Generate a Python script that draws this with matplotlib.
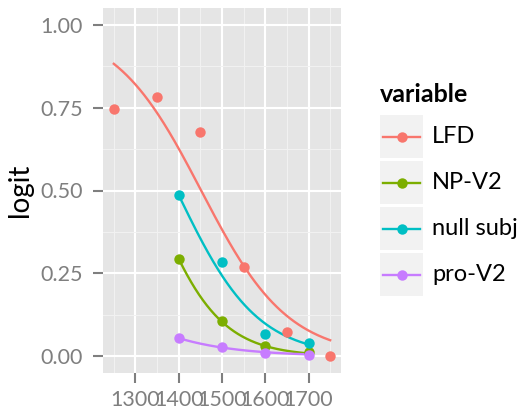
import numpy as np
import matplotlib.pyplot as plt
from matplotlib.patches import Rectangle
from matplotlib.lines import Line2D

# series
variables = ['LFD', 'NP-V2', 'null subj', 'pro-V2']
colors = ['#F8766D', '#7CAE00', '#00BFC4', '#C77CFF']

lfd_years = [1250, 1350, 1450, 1550, 1650, 1750]
lfd_vals = [0.745, 0.782, 0.675, 0.268, 0.074, 0.0]
npv2_years = [1400, 1500, 1600, 1700]
npv2_vals = [0.294, 0.106, 0.031, 0.013]
null_years = [1400, 1500, 1600, 1700]
null_vals = [0.486, 0.284, 0.069, 0.039]
prov2_years = [1400, 1500, 1600, 1700]
prov2_vals = [0.056, 0.028, 0.011, 0.003]

# logistic fit curves: (start year, end year, logit at start year, slope per year)
fit_params = {
    'LFD': (1250, 1750, 2.01, -0.00996),
    'NP-V2': (1400, 1700, -0.876, -0.01276),
    'null subj': (1400, 1700, -0.056, -0.01078),
    'pro-V2': (1400, 1700, -2.84, -0.00757),
}

points = {
    'LFD': (lfd_years, lfd_vals),
    'NP-V2': (npv2_years, npv2_vals),
    'null subj': (null_years, null_vals),
    'pro-V2': (prov2_years, prov2_vals),
}

GREY = '#7F7F7F'
plt.rcParams['font.family'] = 'Lato'

fig = plt.figure(figsize=(5.27, 4.12), dpi=100)
ax = fig.add_axes([103 / 527, 1 - 373 / 412, 238 / 527, 365 / 412])
ax.set_facecolor('#E5E5E5')

for name, col in zip(variables, colors):
    x0, x1, a, b = fit_params[name]
    xs = np.linspace(x0, x1, 200)
    ys = 1 / (1 + np.exp(-(a + b * (xs - x0))))
    ax.plot(xs, ys, color=col, lw=1.7, zorder=3)
    px, py = points[name]
    ax.plot(px, py, 'o', color=col, ms=7.5, mec='none', zorder=4)

ax.set_xlim(1225, 1775)
ax.set_ylim(-0.05, 1.05)
ax.set_xticks([1300, 1400, 1500, 1600, 1700])
ax.set_xticks([1250, 1350, 1450, 1550, 1650, 1750], minor=True)
ax.set_yticks([0, 0.25, 0.5, 0.75, 1.0])
ax.set_yticks([0.125, 0.375, 0.625, 0.875], minor=True)
ax.set_yticklabels(['0.00', '0.25', '0.50', '0.75', '1.00'])
ax.grid(which='major', color='white', lw=1.5, zorder=1)
ax.grid(which='minor', color='#F2F2F2', lw=0.7, zorder=1)
ax.set_axisbelow(True)
for s in ax.spines.values():
    s.set_visible(False)
ax.tick_params(which='major', length=7.2, width=1.5, color=GREY,
               labelcolor=GREY, labelsize=15.5)
ax.tick_params(axis='y', pad=7.5)
ax.tick_params(axis='x', pad=5)
ax.tick_params(which='minor', length=0)
ax.set_ylabel('logit', fontsize=20, labelpad=5)

# legend drawn by hand in figure pixels
fig.text(380 / 527, 1 - 94 / 412, 'variable', fontsize=18, fontweight='bold',
         va='center', ha='left')
for i, (name, col) in enumerate(zip(variables, colors)):
    top = 115 + i * 46
    fig.add_artist(Rectangle((380 / 527, 1 - (top + 43) / 412), 43 / 527, 43 / 412,
                             transform=fig.transFigure, facecolor='#F2F2F2',
                             edgecolor='none'))
    yc = 1 - (top + 21.5) / 412
    fig.add_artist(Line2D([383 / 527, 420 / 527], [yc, yc], transform=fig.transFigure,
                          color=col, lw=1.7))
    fig.add_artist(Line2D([401.5 / 527], [yc], transform=fig.transFigure,
                          marker='o', color=col, ms=7.5, mec='none'))
    fig.text(432 / 527, yc, name, fontsize=17, va='center', ha='left')

fig.savefig('out.png', dpi=100)
